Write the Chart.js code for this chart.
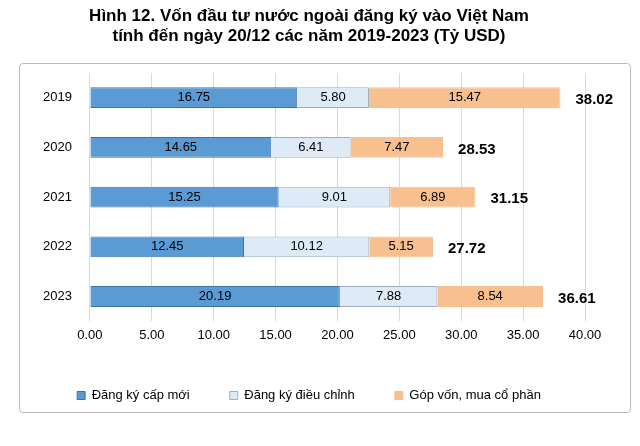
<!DOCTYPE html><html><head><meta charset="utf-8">
<script src="https://cdn.jsdelivr.net/npm/chart.js@4"></script>
<style>html,body{margin:0;padding:0;background:#fff}#w{position:relative;width:640px;height:446px}
#frame{position:absolute;left:19px;top:63px;width:610px;height:348px;border:1px solid #bbb;border-radius:4px}</style>
</head><body><div id="w"><div id="frame"></div><canvas id="c" width="640" height="446"></canvas></div>
<script>
const years=['2019','2020','2021','2022','2023'];
const newReg=[16.75,14.65,15.25,12.45,20.19];
const adjReg=[5.80,6.41,9.01,10.12,7.88];
const contrib=[15.47,7.47,6.89,5.15,8.54];
const totals=[38.02,28.53,31.15,27.72,36.61];
const F='"Liberation Sans", Arial, sans-serif';
const lab={id:'lab',afterDatasetsDraw(ch){const c=ch.ctx;c.save();c.textAlign='center';c.textBaseline='middle';
ch.data.datasets.forEach((ds,i)=>{ch.getDatasetMeta(i).data.forEach((b,j)=>{c.font='13px '+F;c.fillStyle='#000';
c.fillText(ds.data[j].toFixed(2),(b.x+b.base)/2,b.y);});});
const m=ch.getDatasetMeta(2);m.data.forEach((b,j)=>{c.font='bold 15px '+F;c.textAlign='left';c.fillText(totals[j].toFixed(2),b.x+15,b.y+2);});
c.restore();}};
new Chart(document.getElementById('c'),{type:'bar',data:{labels:years,datasets:[
{label:'Đăng ký cấp mới',data:newReg,backgroundColor:'#5B9BD5',borderColor:'#41719C',borderWidth:1},
{label:'Đăng ký điều chỉnh',data:adjReg,backgroundColor:'#DEEBF7',borderColor:'#9DAFC4',borderWidth:1},
{label:'Góp vốn, mua cổ phần',data:contrib,backgroundColor:'#F8C08F',borderColor:'#F8C08F',borderWidth:1}]},
options:{indexAxis:'y',responsive:false,animation:false,
layout:{padding:{left:33,right:55,top:0,bottom:34}},
scales:{x:{stacked:true,min:0,max:40,ticks:{stepSize:5,callback:v=>v.toFixed(2),color:'#000',font:{family:F,size:13},padding:6},
grid:{color:'#d9d9d9',drawTicks:false},border:{display:false}},
y:{stacked:true,ticks:{color:'#000',font:{family:F,size:13},padding:10},grid:{display:false},border:{display:false}}},
datasets:{bar:{categoryPercentage:0.42,barPercentage:1}},
plugins:{title:{display:true,text:['Hình 12. Vốn đầu tư nước ngoài đăng ký vào Việt Nam','tính đến ngày 20/12 các năm 2019-2023 (Tỷ USD)'],
color:'#000',font:{family:F,size:17,weight:'bold'},padding:{top:6,bottom:26},lineHeight:1.25},
legend:{position:'bottom',labels:{boxWidth:8,boxHeight:8,color:'#000',font:{family:F,size:13},padding:40}},tooltip:{enabled:false}}},
plugins:[lab]});
</script></body></html>
